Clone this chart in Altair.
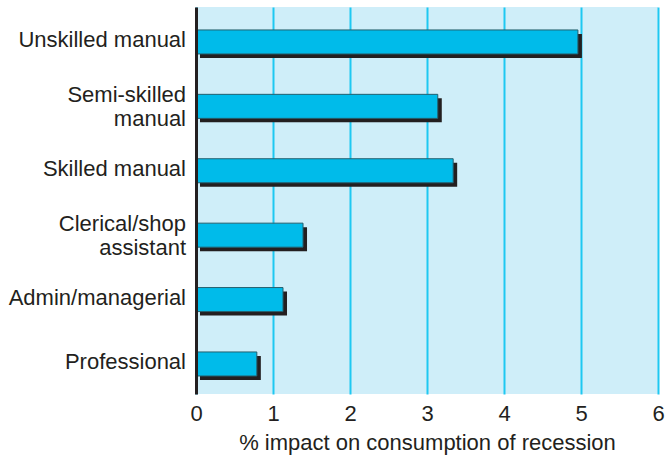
import altair as alt
import pandas as pd

# Occupational groups (top to bottom) and the % impact of recession on consumption
groups = [
    "Unskilled manual",
    "Semi-skilled manual",
    "Skilled manual",
    "Clerical/shop assistant",
    "Admin/managerial",
    "Professional",
]
# category labels as printed, one entry per line
label_lines = [
    ["Unskilled manual"],
    ["Semi-skilled", "manual"],
    ["Skilled manual"],
    ["Clerical/shop", "assistant"],
    ["Admin/managerial"],
    ["Professional"],
]
impact = [4.96, 3.14, 3.34, 1.39, 1.13, 0.79]
x_ticks = [0, 1, 2, 3, 4, 5, 6]

df = pd.DataFrame({"group": groups, "impact": impact})

rows = []
for g, lines in zip(groups, label_lines):
    for i, line in enumerate(lines):
        kind = "single" if len(lines) == 1 else ("first" if i == 0 else "second")
        rows.append({"group": g, "line": line, "kind": kind})
labels_df = pd.DataFrame(rows)

FONT = "Liberation Sans"
TEXT = "#231f20"
FS = 22

y_scale = alt.Scale(domain=groups, paddingInner=0.627, paddingOuter=0.318, align=0.56)
y_enc = alt.Y(
    "group:N",
    sort=groups,
    scale=y_scale,
    axis=alt.Axis(
        title=None,
        domainColor="#231f20",
        domainWidth=3,
        ticks=False,
        grid=False,
        labels=False,
        zindex=1,
    ),
)

x_scale = alt.Scale(domain=[0, 6], nice=False, zero=True)
x_axis = alt.Axis(
    values=x_ticks,
    grid=True,
    gridColor="#1ec8f2",
    gridWidth=2,
    domain=False,
    ticks=False,
    labelFlush=False,
    labelFont=FONT,
    labelFontSize=FS,
    labelColor=TEXT,
    labelPadding=9,
    title="% impact on consumption of recession",
    titleFont=FONT,
    titleFontSize=FS,
    titleFontWeight="normal",
    titleColor=TEXT,
    titlePadding=8,
)

base = alt.Chart(df).encode(y=y_enc)

# drop shadow behind each bar
shadow = base.mark_bar(color="#231f20", xOffset=4, yOffset=4).encode(
    x=alt.X("impact:Q", scale=x_scale, axis=x_axis)
)

bars = base.mark_bar(color="#00bbea", stroke="#24606f", strokeWidth=1).encode(
    x=alt.X("impact:Q", scale=x_scale, axis=x_axis)
)


def label_layer(kind, dy):
    return (
        alt.Chart(labels_df)
        .transform_filter(alt.datum.kind == kind)
        .mark_text(
            align="right",
            baseline="middle",
            dy=dy,
            font=FONT,
            fontSize=FS,
            color=TEXT,
        )
        .encode(
            y=alt.Y("group:N", sort=groups, scale=y_scale),
            x=alt.value(-10),
            text="line:N",
        )
    )


chart = (
    alt.layer(
        shadow,
        bars,
        label_layer("single", -2),
        label_layer("first", -11),
        label_layer("second", 13),
    )
    .properties(
        width=462,
        height=387,
        autosize=alt.AutoSizeParams(type="none"),
        padding={"left": 196, "top": 7, "right": 8, "bottom": 61},
        background="white",
    )
    .configure_view(fill="#cfeef9", stroke=None)
)

chart.save("out.html", embed_options={"renderer": "svg", "actions": False})
